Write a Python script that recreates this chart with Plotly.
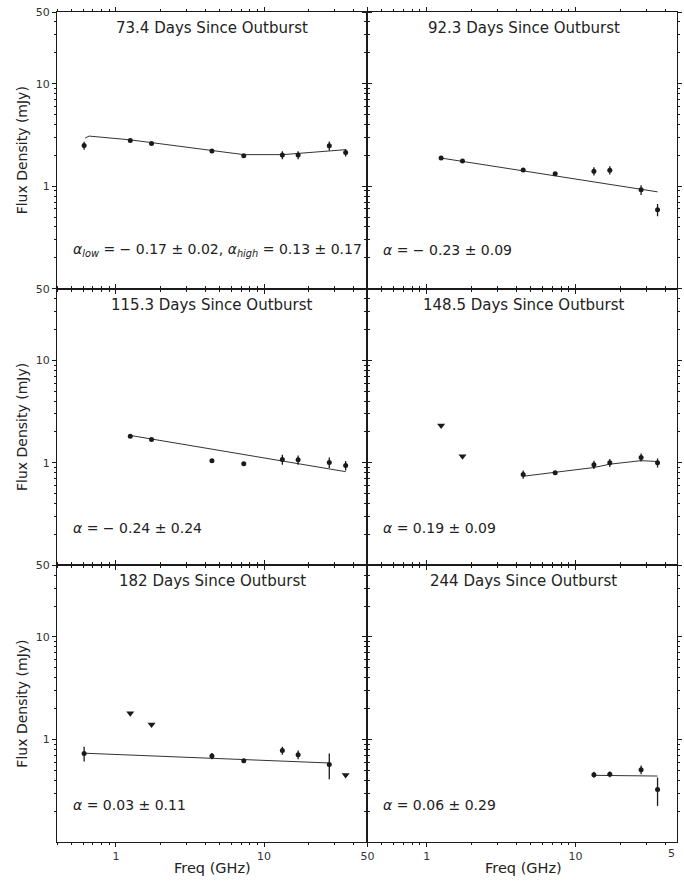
import math
import plotly.graph_objects as go
from plotly.subplots import make_subplots

# ---------------- data ----------------
freq = [0.61, 1.25, 1.74, 4.45, 7.3, 13.3, 17.0, 27.6, 35.6]

titles = ["73.4 Days Since Outburst", "92.3 Days Since Outburst",
          "115.3 Days Since Outburst", "148.5 Days Since Outburst",
          "182 Days Since Outburst", "244 Days Since Outburst"]

alpha_texts = [
    "<i>α</i><sub><i>low</i></sub> = − 0.17 ± 0.02, <i>α</i><sub><i>high</i></sub> = 0.13 ± 0.17",
    "<i>α</i> = − 0.23 ± 0.09",
    "<i>α</i> = − 0.24 ± 0.24",
    "<i>α</i> = 0.19 ± 0.09",
    "<i>α</i> = 0.03 ± 0.11",
    "<i>α</i> = 0.06 ± 0.29",
]

# detections (None = no detection), errors, upper limits, fit-line knots
flux_p1 = [2.49, 2.79, 2.61, 2.20, 1.98, 2.01, 2.01, 2.48, 2.13]
err_p1 = [0.22, 0.06, 0.06, 0.04, 0.04, 0.18, 0.18, 0.25, 0.18]
ul_p1 = [None] * 9
fitf_p1 = [0.62, 0.66, 1.25, 4.4, 7.3, 13.4, 27.6, 35.6]
fits_p1 = [2.95, 3.08, 2.83, 2.23, 2.03, 2.03, 2.23, 2.27]

flux_p2 = [None, 1.88, 1.76, 1.44, 1.32, 1.40, 1.43, 0.92, 0.59]
err_p2 = [0, 0.04, 0.04, 0.03, 0.04, 0.13, 0.13, 0.10, 0.08]
ul_p2 = [None] * 9
fitf_p2 = [1.25, 35.6]
fits_p2 = [1.88, 0.88]

flux_p3 = [None, 1.82, 1.69, 1.05, 0.98, 1.08, 1.07, 1.01, 0.94]
err_p3 = [0, 0.05, 0.05, 0.04, 0.03, 0.12, 0.11, 0.12, 0.10]
ul_p3 = [None] * 9
fitf_p3 = [1.25, 35.6]
fits_p3 = [1.85, 0.82]

flux_p4 = [None, None, None, 0.77, 0.80, 0.96, 1.00, 1.13, 1.00]
err_p4 = [0, 0, 0, 0.07, 0.03, 0.09, 0.09, 0.10, 0.10]
ul_p4 = [None, 2.31, 1.16, None, None, None, None, None, None]
fitf_p4 = [4.45, 7.3, 13.3, 17.0, 27.6, 35.6]
fits_p4 = [0.74, 0.81, 0.90, 0.97, 1.05, 1.03]

flux_p5 = [0.73, None, None, 0.69, 0.62, 0.78, 0.71, 0.57, None]
err_p5 = [0.12, 0, 0, 0.05, 0.03, 0.07, 0.07, 0.16, 0]
ul_p5 = [None, 1.80, 1.40, None, None, None, None, None, 0.45]
fitf_p5 = [0.61, 27.6]
fits_p5 = [0.735, 0.59]

flux_p6 = [None, None, None, None, None, 0.454, 0.457, 0.508, 0.325]
err_p6 = [0, 0, 0, 0, 0, 0.03, 0.03, 0.05, 0.10]
ul_p6 = [None] * 9
fitf_p6 = [13.3, 27.6, 35.6]
fits_p6 = [0.447, 0.445, 0.44]

panels = [
    (flux_p1, err_p1, ul_p1, fitf_p1, fits_p1),
    (flux_p2, err_p2, ul_p2, fitf_p2, fits_p2),
    (flux_p3, err_p3, ul_p3, fitf_p3, fits_p3),
    (flux_p4, err_p4, ul_p4, fitf_p4, fits_p4),
    (flux_p5, err_p5, ul_p5, fitf_p5, fits_p5),
    (flux_p6, err_p6, ul_p6, fitf_p6, fits_p6),
]

y_ticks = [1, 10, 50]
x_ticks = [1, 10, 50]
minor_y = [0.2, 0.3, 0.4, 0.5, 0.6, 0.7, 0.8, 0.9, 2, 3, 4, 5, 6, 7, 8, 9, 20, 30, 40]
minor_x = [0.4, 0.5, 0.6, 0.7, 0.8, 0.9, 2, 3, 4, 5, 6, 7, 8, 9, 20, 30, 40]

# ---------------- figure ----------------
W, H = 684, 882
ML, MR, MT, MB = 57, 0, 12, 40
PW = W - ML - MR
PH = H - MT - MB
split = 314 / PW

fig = make_subplots(rows=3, cols=2, horizontal_spacing=0, vertical_spacing=0)

INK = "#1a1a1a"
FONT = "DejaVu Sans"

for i, (flux, err, ul, ff, fs) in enumerate(panels):
    r, c = i // 2 + 1, i % 2 + 1
    # fit line
    fig.add_trace(go.Scatter(x=ff, y=fs, mode="lines",
                             line=dict(color="#333333", width=1),
                             showlegend=False, hoverinfo="skip"), row=r, col=c)
    # detections
    dx = [f for f, v in zip(freq, flux) if v is not None]
    dy = [v for v in flux if v is not None]
    de = [e for e, v in zip(err, flux) if v is not None]
    fig.add_trace(go.Scatter(x=dx, y=dy, mode="markers",
                             marker=dict(color=INK, size=5),
                             error_y=dict(type="data", array=de, color=INK,
                                          thickness=1.3, width=0),
                             showlegend=False), row=r, col=c)
    # upper limits
    ux = [f for f, v in zip(freq, ul) if v is not None]
    uy = [v for v in ul if v is not None]
    if ux:
        fig.add_trace(go.Scatter(x=ux, y=uy, mode="markers",
                                 marker=dict(color=INK, size=7, symbol="triangle-down"),
                                 showlegend=False), row=r, col=c)

axis_common = dict(type="log", showline=True, linecolor=INK, linewidth=1,
                   mirror="ticks", ticks="outside", ticklen=4, tickwidth=1,
                   tickcolor=INK, showgrid=False, zeroline=False,
                   tickfont=dict(family=FONT, size=11, color="#333333"))

for i in range(6):
    r, c = i // 2 + 1, i % 2 + 1
    xr = [math.log10(0.4), math.log10(50)] if c == 1 else [math.log10(0.4), math.log10(48.1)]
    fig.update_xaxes(axis_common, range=xr, tickmode="array", tickvals=x_ticks,
                     ticktext=[str(t) for t in x_ticks],
                     showticklabels=(r == 3),
                     minor=dict(tickmode="array", tickvals=minor_x, ticks="outside",
                                ticklen=2, tickcolor=INK),
                     domain=[0, split] if c == 1 else [split, 1],
                     row=r, col=c)
    fig.update_yaxes(axis_common, range=[-1, math.log10(50)], tickmode="array",
                     tickvals=y_ticks, ticktext=[str(t) for t in y_ticks],
                     showticklabels=(c == 1),
                     minor=dict(tickmode="array", tickvals=minor_y, ticks="outside",
                                ticklen=2, tickcolor=INK),
                     row=r, col=c)

annotations = []
for i in range(6):
    ax = "" if i == 0 else str(i + 1)
    annotations.append(dict(text=titles[i], xref=f"x{ax} domain", yref=f"y{ax} domain",
                            x=0.505 if i % 2 else 0.5, y=1, yshift=-16,
                            xanchor="center", yanchor="middle", showarrow=False,
                            font=dict(family=FONT, size=15, color="#222222")))
    annotations.append(dict(text=alpha_texts[i], xref=f"x{ax} domain", yref=f"y{ax} domain",
                            x=0, xshift=14, y=0, yshift=39 if i < 2 else 37,
                            xanchor="left", yanchor="middle", showarrow=False,
                            font=dict(family=FONT, size=14, color="#222222")))

for r in range(3):
    yc = 1 - (r + 0.5) / 3
    annotations.append(dict(text="Flux Density (mJy)", xref="paper", yref="paper",
                            x=0, xshift=-35, y=yc, textangle=-90,
                            xanchor="center", yanchor="middle", showarrow=False,
                            font=dict(family=FONT, size=14, color="#222222")))

for c in range(2):
    xc = split / 2 if c == 0 else (split + (687 - ML) / PW) / 2
    annotations.append(dict(text="Freq (GHz)", xref="paper", yref="paper",
                            x=xc, y=0, yshift=-26, xanchor="center", yanchor="middle",
                            showarrow=False,
                            font=dict(family=FONT, size=14.5, color="#222222")))

# the partly visible "50" tick label at the right edge of the lower-right panel
annotations.append(dict(text="5", xref="paper", yref="paper",
                        x=1, y=0, yshift=-11, xanchor="right",
                        yanchor="middle", showarrow=False,
                        font=dict(family=FONT, size=11, color="#333333")))

fig.update_layout(width=W, height=H, margin=dict(l=ML, r=MR, t=MT, b=MB),
                  paper_bgcolor="white", plot_bgcolor="white",
                  annotations=annotations, showlegend=False,
                  font=dict(family=FONT))

fig.write_html("out.html")
